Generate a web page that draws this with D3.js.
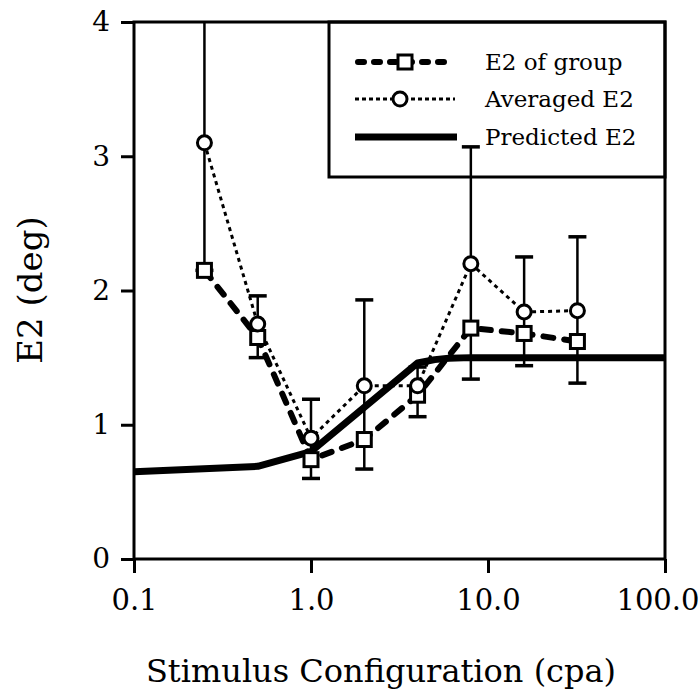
<!DOCTYPE html>
<html>
<head>
<meta charset="utf-8">
<script src="https://cdn.jsdelivr.net/npm/d3@7"></script>
<style>
    body { margin: 0; background: #fff; }
    svg text { font-family: "DejaVu Serif", "Liberation Serif", serif; fill: #000; }
</style>
</head>
<body>
<div id="chart"></div>
<script>
// spatial frequency of the stimulus (cpa)
const cpa = [0.25, 0.5, 1, 2, 4, 8, 16, 32];
// E2 of group (squares, thick dashed)
const groupE2 = [2.15, 1.65, 0.74, 0.89, 1.22, 1.72, 1.68, 1.62];
// averaged E2 (circles, dotted)
const avgE2 = [3.10, 1.75, 0.90, 1.29, 1.29, 2.20, 1.84, 1.85];
// error bar ends
const errHigh = [4.6, 1.96, 1.19, 1.93, 1.43, 3.07, 2.25, 2.40];
const errLow = [2.15, 1.50, 0.60, 0.67, 1.06, 1.34, 1.44, 1.31];
// predicted E2 curve
const predX = [0.1, 0.5, 1, 4, 5, 6, 8, 100];
const predY = [0.65, 0.69, 0.80, 1.46, 1.485, 1.495, 1.5, 1.5];

const xTicks = [0.1, 1, 10, 100];
const xTickLabels = ['0.1', '1.0', '10.0', '100.0'];
const yTicks = [0, 1, 2, 3, 4];
const legendLabels = ['E2 of group', 'Averaged E2', 'Predicted E2'];

const width = 700, height = 694;
const plotLeft = 134, plotRight = 665, plotTop = 22, plotBottom = 559;

let svg = d3.select('#chart').append('svg')
    .attr('width', width)
    .attr('height', height);

let x = d3.scaleLog().domain([0.1, 100]).range([plotLeft, plotRight]);
let y = d3.scaleLinear().domain([0, 4]).range([plotBottom, plotTop]);

svg.append('defs').append('clipPath')
    .attr('id', 'plot-clip')
    .append('rect')
    .attr('x', plotLeft).attr('y', plotTop)
    .attr('width', plotRight - plotLeft).attr('height', plotBottom - plotTop);

// axes
let xAxis = d3.axisBottom(x).tickValues(xTicks)
    .tickFormat((d, i) => xTickLabels[i]).tickSize(14).tickPadding(16);
let yAxis = d3.axisLeft(y).tickValues(yTicks)
    .tickFormat(d3.format('d')).tickSize(13).tickPadding(11);

let gx = svg.append('g').attr('transform', `translate(0,${plotBottom})`).call(xAxis);
let gy = svg.append('g').attr('transform', `translate(${plotLeft},0)`).call(yAxis);
gx.select('.domain').remove();
gy.select('.domain').remove();
gx.selectAll('line').attr('stroke', '#000').attr('stroke-width', 3);
gy.selectAll('line').attr('stroke', '#000').attr('stroke-width', 3);
gx.selectAll('text').attr('font-size', 29).attr('font-family', 'DejaVu Serif');
gy.selectAll('text').attr('font-size', 28).attr('font-family', 'DejaVu Serif');
// last label sits against the right edge of the page
gx.selectAll('.tick').filter(d => d === 100).select('text')
    .attr('text-anchor', 'end').attr('x', 34);

// frame
svg.append('rect')
    .attr('x', plotLeft).attr('y', plotTop)
    .attr('width', plotRight - plotLeft).attr('height', plotBottom - plotTop)
    .attr('fill', 'none').attr('stroke', '#000').attr('stroke-width', 3);

// legend box (no fill, error bar shows through)
let legX = 329, legY = plotTop, legH = 155;
svg.append('rect')
    .attr('x', legX).attr('y', legY)
    .attr('width', plotRight - legX).attr('height', legH)
    .attr('fill', 'none').attr('stroke', '#000').attr('stroke-width', 3);

let plot = svg.append('g').attr('clip-path', 'url(#plot-clip)');

// predicted
let line = d3.line().x(d => x(d[0])).y(d => y(d[1]));
plot.append('path')
    .datum(d3.zip(predX, predY))
    .attr('d', line)
    .attr('fill', 'none').attr('stroke', '#000')
    .attr('stroke-width', 7).attr('stroke-linejoin', 'round');

// E2 of group
plot.append('path')
    .datum(d3.zip(cpa, groupE2))
    .attr('d', line)
    .attr('fill', 'none').attr('stroke', '#000')
    .attr('stroke-width', 6).attr('stroke-dasharray', '10,11')
    .attr('stroke-linecap', 'round');

// averaged E2
plot.append('path')
    .datum(d3.zip(cpa, avgE2))
    .attr('d', line)
    .attr('fill', 'none').attr('stroke', '#000')
    .attr('stroke-width', 3).attr('stroke-dasharray', '4,4');

// error bars
let bars = plot.selectAll('.err')
    .data(d3.range(cpa.length))
    .enter().append('g')
    .attr('class', 'err');
bars.append('line')
    .attr('x1', i => x(cpa[i])).attr('x2', i => x(cpa[i]))
    .attr('y1', i => y(errLow[i])).attr('y2', i => y(errHigh[i]))
    .attr('stroke', '#000').attr('stroke-width', 2.5);
bars.append('line')
    .attr('x1', i => x(cpa[i]) - 9).attr('x2', i => x(cpa[i]) + 9)
    .attr('y1', i => y(errLow[i])).attr('y2', i => y(errLow[i]))
    .attr('stroke', '#000').attr('stroke-width', 3.5);
bars.append('line')
    .attr('x1', i => x(cpa[i]) - 9).attr('x2', i => x(cpa[i]) + 9)
    .attr('y1', i => y(errHigh[i])).attr('y2', i => y(errHigh[i]))
    .attr('stroke', '#000').attr('stroke-width', 3.5);

// markers
plot.selectAll('.sq')
    .data(d3.zip(cpa, groupE2))
    .enter().append('rect')
    .attr('class', 'sq')
    .attr('x', d => x(d[0]) - 7).attr('y', d => y(d[1]) - 7)
    .attr('width', 14).attr('height', 14)
    .attr('fill', '#fff').attr('stroke', '#000').attr('stroke-width', 3);

plot.selectAll('.circ')
    .data(d3.zip(cpa, avgE2))
    .enter().append('circle')
    .attr('class', 'circ')
    .attr('cx', d => x(d[0])).attr('cy', d => y(d[1]))
    .attr('r', 7)
    .attr('fill', '#fff').attr('stroke', '#000').attr('stroke-width', 3);

// legend entries
let rowY = [62, 99, 137];
let lx0 = 355, lx1 = 455, lmid = 405;
let legend = svg.append('g');

legend.append('line')
    .attr('x1', lx0 + 3).attr('x2', lx1 - 3).attr('y1', rowY[0]).attr('y2', rowY[0])
    .attr('stroke', '#000').attr('stroke-width', 6)
    .attr('stroke-dasharray', '6,10').attr('stroke-linecap', 'round');
legend.append('rect')
    .attr('x', lmid - 7).attr('y', rowY[0] - 7).attr('width', 14).attr('height', 14)
    .attr('fill', '#fff').attr('stroke', '#000').attr('stroke-width', 3);

legend.append('line')
    .attr('x1', lx0).attr('x2', lx1).attr('y1', rowY[1]).attr('y2', rowY[1])
    .attr('stroke', '#000').attr('stroke-width', 3).attr('stroke-dasharray', '4,3');
legend.append('circle')
    .attr('cx', lmid - 5).attr('cy', rowY[1]).attr('r', 7)
    .attr('fill', '#fff').attr('stroke', '#000').attr('stroke-width', 3);

legend.append('line')
    .attr('x1', lx0).attr('x2', lx1 + 2).attr('y1', rowY[2]).attr('y2', rowY[2])
    .attr('stroke', '#000').attr('stroke-width', 7);

legend.selectAll('text')
    .data(legendLabels)
    .enter().append('text')
    .attr('x', 485)
    .attr('y', (d, i) => rowY[i] + 8)
    .attr('font-size', 23)
    .text(d => d);

// axis titles
svg.append('text')
    .attr('x', 381).attr('y', 682)
    .attr('text-anchor', 'middle')
    .attr('font-size', 32)
    .text('Stimulus Configuration (cpa)');

svg.append('text')
    .attr('transform', 'translate(42,290) rotate(-90)')
    .attr('text-anchor', 'middle')
    .attr('font-size', 34)
    .text('E2 (deg)');
</script>
</body>
</html>
